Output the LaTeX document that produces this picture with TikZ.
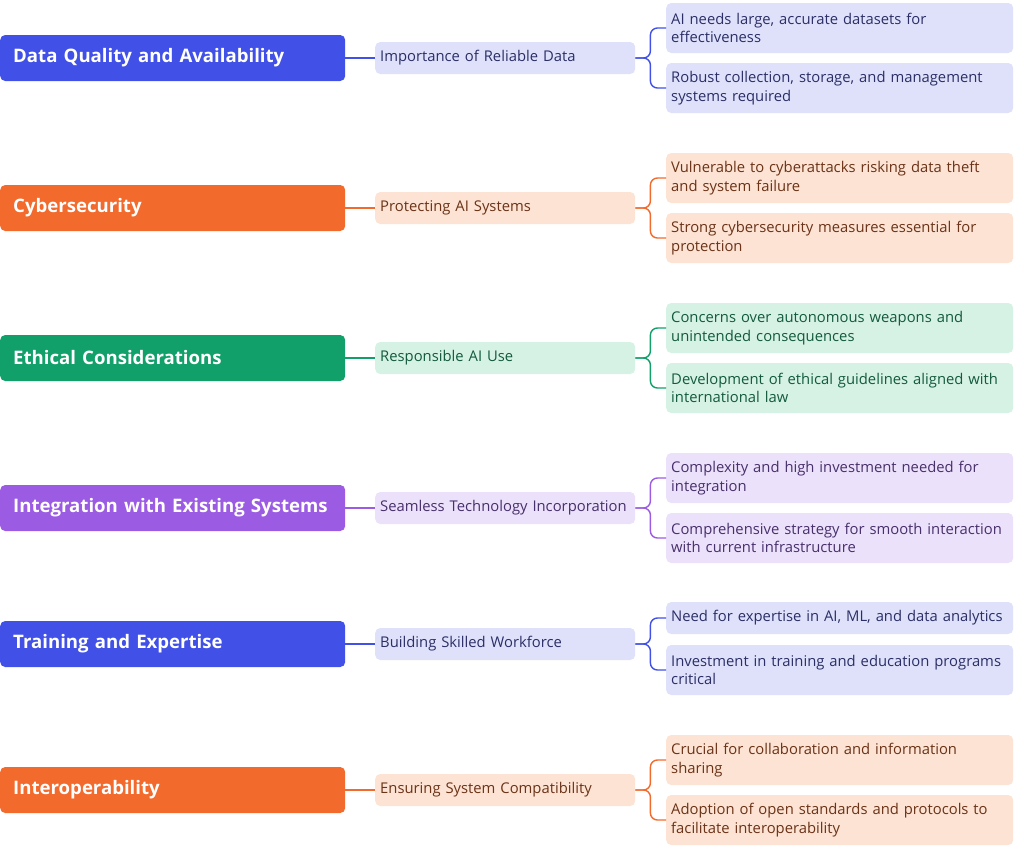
\documentclass[tikz,border=0pt]{standalone}
\usepackage{fontspec}
\setmainfont{Open Sans}
\begin{document}
\begin{tikzpicture}[x=1pt,y=-1pt,
 mainbox/.style={rounded corners=5pt,minimum height=46pt,minimum width=345pt,text width=319pt,align=left,inner xsep=13pt,text=white,font=\fontsize{18.6}{23}\selectfont\bfseries,anchor=west},
 midbox/.style={rounded corners=5pt,minimum height=32pt,minimum width=260pt,text width=250pt,align=left,inner xsep=5pt,font=\fontsize{14.8}{18}\selectfont,anchor=west},
 leafbox/.style={rounded corners=5pt,minimum height=50pt,minimum width=347pt,text width=337pt,align=left,inner xsep=5pt,font=\fontsize{14.8}{18.5}\selectfont,anchor=west},
 conn/.style={line width=1.4pt,rounded corners=7pt}]
\useasboundingbox (0,0) rectangle (1024,849);
\definecolor{cB}{HTML}{4150E6}\definecolor{lB}{HTML}{DFE1FB}\definecolor{tB}{HTML}{2B2F66}
\definecolor{cO}{HTML}{F26A2C}\definecolor{lO}{HTML}{FDE3D3}\definecolor{tO}{HTML}{6B3318}
\definecolor{cG}{HTML}{12A06A}\definecolor{lG}{HTML}{D5F2E4}\definecolor{tG}{HTML}{145A3E}
\definecolor{cP}{HTML}{9B5BE3}\definecolor{lP}{HTML}{ECE1FB}\definecolor{tP}{HTML}{48306B}
\newcommand{\branch}[7]{%
 \node[mainbox,fill=#2] (m#1) at (0,#5) {#6};
 \node[midbox,fill=#3,text=#4] (c#1) at (375,#5) {#7};
 \draw[#2,line width=1.4pt] (m#1.east) -- (c#1.west);
}
\newcommand{\lv}[9]{%
 \node[leafbox,fill=#3,text=#4,minimum height=#9] (a#1) at (666,#5) {#6};
 \node[leafbox,fill=#3,text=#4] (b#1) at (666,#7) {#8};
 \draw[conn,draw=#2] (c#1.east) -- ++(15,0) |- (a#1.west);
 \draw[conn,draw=#2] (c#1.east) -- ++(15,0) |- (b#1.west);
}
\branch{1}{cB}{lB}{tB}{58}{Data Quality and Availability}{Importance of Reliable Data}
\lv{1}{cB}{lB}{tB}{28}{AI needs large, accurate datasets for\\effectiveness}{88}{Robust collection, storage, and management\\systems required}{50pt}
\branch{2}{cO}{lO}{tO}{208}{Cybersecurity}{Protecting AI Systems}
\lv{2}{cO}{lO}{tO}{178}{Vulnerable to cyberattacks risking data theft\\and system failure}{238}{Strong cybersecurity measures essential for\\protection}{50pt}
\branch{3}{cG}{lG}{tG}{358}{Ethical Considerations}{Responsible AI Use}
\lv{3}{cG}{lG}{tG}{328}{Concerns over autonomous weapons and\\unintended consequences}{388}{Development of ethical guidelines aligned with\\international law}{50pt}
\branch{4}{cP}{lP}{tP}{508}{Integration with Existing Systems}{Seamless Technology Incorporation}
\lv{4}{cP}{lP}{tP}{478}{Complexity and high investment needed for\\integration}{538}{Comprehensive strategy for smooth interaction\\with current infrastructure}{50pt}
\branch{5}{cB}{lB}{tB}{644}{Training and Expertise}{Building Skilled Workforce}
\lv{5}{cB}{lB}{tB}{618}{Need for expertise in AI, ML, and data analytics}{670}{Investment in training and education programs\\critical}{32pt}
\branch{6}{cO}{lO}{tO}{790}{Interoperability}{Ensuring System Compatibility}
\lv{6}{cO}{lO}{tO}{760}{Crucial for collaboration and information\\sharing}{820}{Adoption of open standards and protocols to\\facilitate interoperability}{50pt}
\end{tikzpicture}
\end{document}
